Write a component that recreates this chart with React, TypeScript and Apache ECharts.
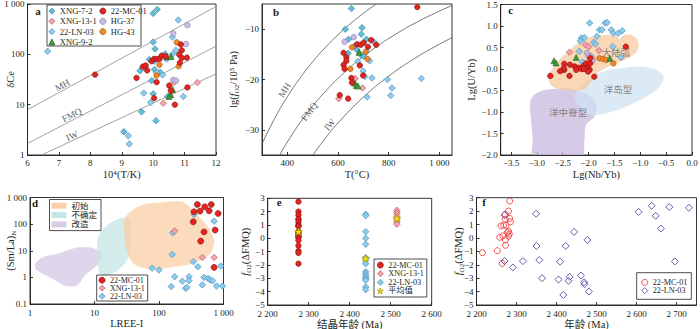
import React, { useEffect, useRef } from 'react';
import * as echarts from 'echarts';

const SERIF = "'Liberation Serif', 'Times New Roman', 'Noto Sans CJK SC', serif";
const INK = '#231f20';

// ===== Panel a: δCe vs 10^4/T(K)
const aXNG72 = [[10.0, 650], [10.13, 780], [10.0, 175], [10.06, 128], [9.88, 79], [10.38, 102], [9.58, 47], [10.04, 50], [10.22, 44], [9.95, 30], [10.0, 16.5], [9.63, 7.2], [10.09, 4.8], [9.07, 2.9], [10.46, 14.6]];
const aLN03 = [[6.64, 115], [10.8, 480], [10.61, 220], [10.72, 121], [10.04, 73], [10.43, 81], [10.61, 99], [9.67, 54], [10.11, 43], [10.3, 39], [9.7, 17], [9.92, 11], [9.21, 2.4], [9.24, 1.66], [10.96, 14.6]];
const aXNG131 = [[10.32, 10.7], [11.41, 27.5], [10.66, 27.5]];
const aHG37 = [[10.64, 260], [11.09, 380], [11.05, 160], [10.64, 31], [10.73, 30]];
const aHG43 = [[10.75, 173], [10.11, 38], [10.2, 62], [10.81, 58]];
const aXNG92 = [[10.43, 89], [10.57, 91], [10.62, 20], [10.56, 15.8], [10.5, 14.6]];
const aMC01 = [[8.15, 39.5], [9.47, 34], [9.67, 57], [9.76, 60], [9.81, 48], [9.95, 73], [10.03, 81], [10.11, 81], [10.2, 81], [10.27, 94], [10.11, 28], [10.03, 13.5], [10.51, 24], [10.56, 19], [10.88, 157], [10.91, 120], [10.83, 99], [10.91, 85], [10.85, 68], [11.07, 86], [10.69, 10], [11.09, 22], [10.4, 91]];
const aMH = [[6, 7.9], [12, 890]];
const aFMQ = [[6, 1.7], [12, 145]];
const aIW = [[6.45, 1], [12, 41]];
const aBufferLabels = [{ name: 'MH', value: [7.11, 24], rot: 29 }, { name: 'FMQ', value: [7.41, 6.2], rot: 27 }, { name: 'IW', value: [7.42, 2.38], rot: 24 }];

// ===== Panel b: lg fO2 vs T(°C)
const bXNG72 = [[653, -5.9], [629, -10], [695, -9.7], [642, -12], [692, -11], [712, -12], [662, -13.5], [640, -14.8], [675, -14.1], [688, -15], [701, -15.4]];
const bLN03 = [[678, -16.4], [725, -16.3], [699, -18.3], [706, -19.4], [734, -19.7], [795, -20], [813, -21.7], [715, -23.5], [808, -23.2], [929, -19.8], [741, -12.5], [712, -14.5]];
const bMC01 = [[913, -5.6], [622, -14.7], [633, -15.6], [633, -16.3], [622, -17.1], [626, -17.9], [675, -13], [690, -13.1], [701, -12.7], [731, -12.2], [751, -13.1], [718, -13.5], [686, -17.2], [653, -19.7], [655, -20.6], [699, -19.2], [607, -23.1], [640, -23.8]];
const bXNG131 = [[603, -23.8], [668, -19.8], [697, -21.7]];
const bHG37 = [[626, -12.5], [662, -11.6]];
const bHG43 = [[655, -13.6], [709, -14.5], [716, -15.9], [649, -17.9]];
const bXNG92 = [[683, -14.6], [666, -20.7], [672, -21.2], [679, -21.3]];
const bMH = [[300, -32.8], [350, -27.75], [400, -23.44], [450, -19.72], [500, -16.48], [550, -13.64], [600, -11.12], [650, -8.87], [700, -6.85], [751, -5.0]];
const bFMQ = [[370, -35.0], [400, -32.43], [450, -28.61], [500, -25.29], [550, -22.37], [600, -19.78], [650, -17.48], [700, -15.41], [750, -13.54], [800, -11.85], [900, -8.9], [1000, -6.42], [1050, -5.31]];
const bIW = [[501, -35.0], [550, -31.66], [600, -28.63], [700, -23.52], [800, -19.35], [900, -15.9], [1000, -12.99], [1050, -11.7]];
const bBufferLabels = [{ name: 'MH', value: [390, -22.1], rot: 58 }, { name: 'FMQ', value: [487, -26.4], rot: 52 }, { name: 'IW', value: [568, -29.0], rot: 50 }];

// ===== Panel c: Lg(U/Yb) vs Lg(Nb/Yb)
const cLN03 = [[-1.98, 1.07], [-1.68, 1.07], [-1.64, 1.08], [-1.79, 0.91], [-1.74, 0.91], [-1.56, 0.91], [-1.52, 0.83], [-1.43, 0.83], [-1.35, 0.89], [-2.14, 0.72], [-2.08, 0.73], [-2.16, 0.65], [-1.84, 0.76], [-1.9, 0.62], [-1.87, 0.58], [-1.53, 0.52], [-2.18, 0.41], [-1.95, 0.29], [-2.12, 0.16], [-1.37, 0.27], [-2.08, 0.06]];
const cXNG131 = [[-2.37, 0.39], [-2.06, 0.56], [-2.0, 0.52], [-1.8, 0.43], [-1.93, 0.23]];
const cHG37 = [[-2.03, 0.37], [-2.0, 0.29], [-1.93, 0.19]];
const cHG43 = [[-1.79, 0.25], [-1.72, 0.23], [-1.66, 0.21], [-1.52, 0.13], [-2.05, 0.08]];
const cXNG92 = [[-2.67, 0.19], [-2.63, 0.14], [-2.24, 0.27], [-1.59, 0.25]];
const cMC01 = [[-1.28, 0.52], [-2.47, 0.12], [-2.36, 0.1], [-2.27, 0.06], [-2.19, 0.03], [-2.1, 0.07], [-2.05, 0.13], [-2.01, 0.02], [-1.97, 0.13], [-1.98, -0.02], [-2.47, -0.02], [-2.24, -0.02], [-2.14, 0.0], [-2.09, 0.0], [-2.48, 0.02], [-2.01, -0.06], [-2.74, -0.16], [-2.37, -0.16], [-1.89, -0.18], [-1.97, 0.25], [-2.55, -0.05]];
const cArc = [[-2.77, -0.16], [-2.63, 0.135], [-2.43, 0.37], [-2.21, 0.6], [-1.98, 0.74], [-1.72, 0.79], [-1.47, 0.77], [-1.4, 0.7], [-1.34, 0.77], [-1.21, 0.8], [-1.08, 0.72], [-1.03, 0.56], [-1.09, 0.38], [-1.27, 0.23], [-1.53, 0.1], [-1.79, -0.06], [-1.95, -0.29], [-2.08, -0.47], [-2.31, -0.5], [-2.56, -0.47], [-2.73, -0.37]];
const cOIB = [[-2.27, -0.6], [-2.05, -0.29], [-1.72, -0.06], [-1.4, 0.02], [-1.01, 0.06], [-0.69, -0.02], [-0.55, -0.19], [-0.63, -0.41], [-0.88, -0.64], [-1.27, -0.87], [-1.66, -1.03], [-1.95, -1.07], [-2.11, -0.95], [-2.24, -0.76]];
const cMORB = [[-3.05, -0.6], [-2.89, -0.5], [-2.43, -0.45], [-2.24, -0.49], [-2.01, -0.6], [-1.85, -0.84], [-1.89, -1.11], [-2.05, -1.3], [-2.08, -1.65], [-2.14, -2.08], [-3.07, -2.08], [-3.08, -1.65], [-3.13, -0.95], [-3.13, -0.76]];
const cFieldLabels = [{ name: '大陆弧', value: [-1.47, 0.37] }, { name: '洋岛型', value: [-1.43, -0.49] }, { name: '洋中脊型', value: [-2.4, -1.03] }];

// ===== Panel d: (Sm/La)N vs LREE-I
const dMC01 = [[349, 290], [393, 546], [433, 308], [512, 447], [598, 316], [646, 546], [825, 251], [340, 122], [499, 51], [443, 23], [741, 60], [715, 2.37]];
const dXNG131 = [[175, 56], [470, 5.6], [715, 5.6]];
const dLN03 = [[163, 47], [160, 7.2], [78, 2.2], [100, 1.9], [175, 1.06], [155, 0.45], [259, 0.39], [270, 0.42], [292, 1.06], [292, 0.75], [230, 0.72], [340, 3.9], [400, 2.5], [349, 229], [499, 1.0], [576, 0.92], [620, 0.8], [676, 0.75], [470, 0.52], [780, 0.47], [964, 0.47], [907, 2.66], [715, 129]];
const dInitial = [[29.1, 150], [38.3, 335], [58.1, 546], [93.7, 631], [151, 708], [230, 688], [310, 410], [443, 163], [598, 68.8], [715, 25.1], [715, 18.8], [634, 7.94], [443, 4.47], [275, 2.9], [170, 2.51], [93.7, 2.0], [58.1, 2.18], [43.1, 2.9], [34, 5.96], [30.1, 18.8]];
const dUncertain = [[10.9, 12.2], [11.6, 35.5], [14.7, 79.4], [21, 141], [30.1, 178], [36.9, 122], [36, 25], [34, 5.96], [25.2, 2.18], [16.6, 1.22], [12.3, 1.33], [11.2, 3.35]];
const dModified = [[1.2, 3.16], [1.52, 5.5], [2.76, 7.94], [5.3, 13.3], [8.6, 13.3], [12.3, 9.2], [12.6, 4.47], [10.3, 2.51], [7.2, 1.22], [5.5, 0.52], [3.72, 0.47], [2.05, 1.0], [1.27, 1.88]];

// ===== Panel e: fO2(ΔFMQ) vs crystallisation age
const eMC01Age = 2275;
const eMC01 = [2.75, 2.0, 1.75, 1.45, 1.4, 1.2, 0.95, 0.95, 0.9, 0.5, 0.4, 0.3, 0.15, 0.15, 0.05, -0.15, -0.55, -0.95, -1.1, -1.9];
const eLN03Age = 2439;
const eLN03 = [1.8, 1.7, 0.5, 0.0, -0.45, -1.45, -1.6, -1.9, -2.5, -2.65, -2.8, -2.95, -3.05, -3.15, -3.65, -3.85];
const eXNG131Age = 2515;
const eXNG131 = [2.1, 1.95, 1.8, 1.6, 1.4, 1.2, 1.05];
const eMeans = [[2275, 0.5], [2439, -1.5], [2515, 1.5]];

// ===== Panel f: fO2(ΔFMQ) vs age
const fMC01 = [[2283, 2.75], [2280, 2.0], [2272, 1.75], [2283, 1.45], [2272, 1.4], [2285, 1.2], [2268, 0.95], [2274, 0.95], [2261, 0.9], [2280, 0.5], [2277, 0.4], [2282, 0.3], [2280, 0.15], [2266, 0.15], [2258, 0.05], [2272, -0.15], [2273, -0.55], [2252, -0.95], [2215, -1.1], [2264, -1.9]];
const fLN03 = [[2270, 1.7], [2270, -1.72], [2291, -2.2], [2316, -1.73], [2349, 1.8], [2350, -0.6], [2357, -1.65], [2364, -3.0], [2405, -3.1], [2409, -1.77], [2423, -0.6], [2444, 0.45], [2477, -0.15], [2430, -3.2], [2433, -2.9], [2417, -4.25], [2461, -2.8], [2469, -3.3], [2470, -3.45], [2481, -4.0], [2605, 1.95], [2638, 2.4], [2648, 1.65], [2661, 0.7], [2682, 2.3], [2696, -1.75], [2731, 2.25]];

// tick labels
const bXTicks = [400, 600, 800, 1000];
const bYTicks = [-30, -20, -10];
const cXTicks = [-3.5, -3.0, -2.5, -2.0, -1.5, -1.0, -0.5, 0.0];
const fXTicks = [2200, 2300, 2400, 2500, 2600, 2700];

const COL = {
  xng72: ['#63bfd8', '#2f7f9a'],
  ln03: ['#8fcbea', '#3e86b5'],
  mc01: ['#e3241f', '#7d1512'],
  xng131: ['#f2a3ab', '#b9515f'],
  hg37: ['#cbbde3', '#7f6fa8'],
  hg43: ['#f0882c', '#a4540f'],
  xng92: ['#3f9b3a', '#22611d'],
  mean: ['#f7e600', '#9a8a00'],
  openRed: ['#ffffff', '#f03c3c'],
  openPurple: ['#ffffff', '#5a4aa8'],
};
const STAR = 'path://M0,-10L2.35,-3.24L9.51,-3.09L3.8,1.24L5.88,8.09L0,4L-5.88,8.09L-3.8,1.24L-9.51,-3.09L-2.35,-3.24Z';

function fmtNum(v: number, dec = 0): string {
  const av = Math.abs(v);
  let s = dec ? av.toFixed(dec) : String(Math.round(av * 1000) / 1000);
  if (av >= 1000) s = s.replace(/\B(?=(\d{3})+(?!\d))/g, ' ');
  return (v < 0 ? '−' : '') + s;
}

function axis(gi: number, cfg: any) {
  const { type = 'value', min, max, interval, ticks, dec = 0, name, nameGap, rich, margin = 3 } = cfg;
  const a: any = {
    type, gridIndex: gi, min, max,
    axisLine: { show: true, onZero: false, lineStyle: { color: INK, width: 0.9 } },
    axisTick: { show: true, inside: true, length: 3, lineStyle: { color: INK, width: 0.9 } },
    axisLabel: { color: INK, fontSize: 9, fontFamily: SERIF, margin, formatter: (v: number) => fmtNum(v, dec), showMinLabel: true, showMaxLabel: true },
    splitLine: { show: false },
    minorTick: { show: false },
    name, nameLocation: 'middle', nameGap, nameMoveOverlap: false,
    nameTextStyle: { color: INK, fontSize: 10.5, fontFamily: SERIF, rich },
  };
  if (interval != null) a.interval = interval;
  if (ticks) { a.axisLabel.customValues = ticks; a.axisTick.customValues = ticks; }
  if (type === 'log') a.logBase = 10;
  return a;
}

function sc(name: string, data: any[], g: number, symbol: string, size: number, col: string[], z = 3, bw = 0.6) {
  return {
    type: 'scatter', name, data, xAxisIndex: g, yAxisIndex: g, symbol, symbolSize: size, z, silent: true,
    itemStyle: { color: col[0], borderColor: col[1], borderWidth: bw, opacity: 1 },
  };
}

function poly(name: string, pts: number[][], g: number, color: string, smooth = 0.3) {
  return {
    type: 'custom', name, xAxisIndex: g, yAxisIndex: g, clip: true, silent: true, z: 1,
    data: [pts[0]],
    renderItem: (_p: any, api: any) => ({
      type: 'polygon',
      shape: { points: pts.map((p) => api.coord(p)), smooth },
      style: { fill: color, stroke: 'none' },
    }),
  };
}

function bufferLine(data: number[][], g: number, color: string, smooth: boolean) {
  return {
    type: 'line', data, xAxisIndex: g, yAxisIndex: g, showSymbol: false, symbol: 'none', smooth, silent: true, z: 2,
    lineStyle: { color, width: 0.8 }, clip: true,
  };
}

function textLabels(items: any[], g: number, color: string, size: number) {
  return {
    type: 'scatter', xAxisIndex: g, yAxisIndex: g, symbolSize: 0, silent: true, z: 2,
    data: items.map((it) => ({ name: it.name, value: it.value, label: { rotate: it.rot || 0 } })),
    label: { show: true, position: 'inside', formatter: '{b}', color, fontSize: size, fontFamily: SERIF },
  };
}

const li = (name: string, icon: string, col: string[], bw = 0.7) => ({ name, icon, itemStyle: { color: col[0], borderColor: col[1], borderWidth: bw } });

function legend(left: number, top: number, data: any[], opts: any = {}) {
  return {
    left, top, orient: 'vertical', itemGap: 0, itemWidth: opts.iw || 6, itemHeight: opts.ih || 6, selectedMode: false,
    padding: opts.padding || 0,
    borderColor: opts.border ? INK : 'transparent', borderWidth: opts.border ? 0.8 : 0,
    textStyle: { fontSize: opts.fs || 8.5, fontFamily: SERIF, color: INK, lineHeight: opts.lh || 10 },
    data,
  };
}

const subRich = {
  t: { fontSize: 10.5, fontFamily: SERIF, color: INK, lineHeight: 14 },
  i: { fontSize: 10.5, fontFamily: SERIF, color: INK, fontStyle: 'italic', lineHeight: 14 },
  s: { fontSize: 7, fontFamily: SERIF, color: INK, verticalAlign: 'bottom', lineHeight: 9 },
};

function buildOption() {
  const gridBase = { show: true, borderColor: INK, borderWidth: 0.9, containLabel: false, outerBoundsMode: 'none' };
  const grids = [
    { left: 27.5, top: 4, width: 188.5, height: 151 },
    { left: 262, top: 4, width: 190, height: 151 },
    { left: 500.7, top: 4.5, width: 191.3, height: 150.5 },
    { left: 30, top: 197.5, width: 193.5, height: 106.5 },
    { left: 267.7, top: 198.3, width: 164, height: 106.7 },
    { left: 476.5, top: 197.7, width: 220, height: 107.3 },
  ].map((g) => ({ ...gridBase, ...g }));

  const xAxis = [
    axis(0, { min: 6, max: 12, interval: 1, name: '10⁴(T/K)', nameGap: 14.5 }),
    axis(1, { min: 300, max: 1050, ticks: bXTicks, name: 'T(°C)', nameGap: 14.5 }),
    axis(2, { min: -3.7, max: 0, ticks: cXTicks, dec: 1, name: 'Lg(Nb/Yb)', nameGap: 14.5 }),
    axis(3, { type: 'log', min: 1, max: 1000, name: 'LREE-I', nameGap: 14, margin: 4 }),
    axis(4, { min: 2200, max: 2600, interval: 100, name: '结晶年龄 (Ma)', nameGap: 14.5, margin: 4 }),
    axis(5, { min: 2200, max: 2750, ticks: fXTicks, name: '年龄 (Ma)', nameGap: 14, margin: 4 }),
  ];
  const yAxis = [
    axis(0, { type: 'log', min: 1, max: 1000, name: 'δCe', nameGap: 12 }),
    axis(1, { min: -35, max: -5, ticks: bYTicks, name: '{t|lg(}{i|f}{s|O2}{t|/10⁵ Pa)}', nameGap: 22, rich: subRich }),
    axis(2, { min: -2, max: 1.5, interval: 0.5, dec: 1, name: 'Lg(U/Yb)', nameGap: 24 }),
    axis(3, { type: 'log', min: 0.1, max: 1000, name: '{t|(Sm/La)}{s|N}', nameGap: 13, rich: subRich }),
    axis(4, { min: -5, max: 3, interval: 1, name: '{i|f}{s|O2}{t|(ΔFMQ)}', nameGap: 15.5, rich: subRich }),
    axis(5, { min: -5, max: 3, interval: 1, name: '{i|f}{s|O2}{t|(ΔFMQ)}', nameGap: 11, rich: subRich }),
  ];

  const series: any[] = [
    // a
    bufferLine(aMH, 0, '#8a8a8a', false), bufferLine(aFMQ, 0, '#8a8a8a', false), bufferLine(aIW, 0, '#8a8a8a', false),
    textLabels(aBufferLabels, 0, '#333', 9.5),
    sc('XNG-7-2', aXNG72, 0, 'diamond', 6.5, COL.xng72),
    sc('22-LN-03', aLN03, 0, 'diamond', 6.5, COL.ln03),
    sc('XNG-13-1', aXNG131, 0, 'diamond', 6.5, COL.xng131),
    sc('HG-37', aHG37, 0, 'circle', 5.5, COL.hg37),
    sc('HG-43', aHG43, 0, 'circle', 5.5, COL.hg43),
    sc('XNG-9-2', aXNG92, 0, 'triangle', 6, COL.xng92),
    sc('22-MC-01', aMC01, 0, 'circle', 5.5, COL.mc01),
    // b
    bufferLine(bMH, 1, '#555', true), bufferLine(bFMQ, 1, '#555', true), bufferLine(bIW, 1, '#555', true),
    textLabels(bBufferLabels, 1, '#333', 9.5),
    sc('XNG-7-2', bXNG72, 1, 'diamond', 6.5, COL.xng72),
    sc('22-LN-03', bLN03, 1, 'diamond', 6.5, COL.ln03),
    sc('XNG-13-1', bXNG131, 1, 'diamond', 6.5, COL.xng131),
    sc('HG-37', bHG37, 1, 'circle', 5.5, COL.hg37),
    sc('HG-43', bHG43, 1, 'circle', 5.5, COL.hg43),
    sc('XNG-9-2', bXNG92, 1, 'triangle', 6, COL.xng92),
    sc('22-MC-01', bMC01, 1, 'circle', 5.5, COL.mc01),
    // c
    poly('洋中脊型', cMORB, 2, 'rgba(200,186,222,0.75)'),
    poly('洋岛型', cOIB, 2, 'rgba(205,225,242,0.7)'),
    poly('大陆弧', cArc, 2, 'rgba(248,200,155,0.72)'),
    textLabels(cFieldLabels, 2, '#666', 9.5),
    sc('22-LN-03', cLN03, 2, 'diamond', 6.5, COL.ln03),
    sc('XNG-13-1', cXNG131, 2, 'diamond', 6.5, COL.xng131),
    sc('HG-37', cHG37, 2, 'circle', 5.5, COL.hg37),
    sc('HG-43', cHG43, 2, 'circle', 5.5, COL.hg43),
    sc('XNG-9-2', cXNG92, 2, 'triangle', 6, COL.xng92),
    sc('22-MC-01', cMC01, 2, 'circle', 5.5, COL.mc01),
    // d
    poly('改造', dModified, 3, 'rgba(214,200,228,0.75)'),
    poly('不确定', dUncertain, 3, 'rgba(196,228,228,0.75)'),
    poly('初始', dInitial, 3, 'rgba(249,204,160,0.7)'),
    sc('22-LN-03', dLN03, 3, 'diamond', 6.5, COL.ln03),
    sc('XNG-13-1', dXNG131, 3, 'diamond', 6.5, COL.xng131),
    sc('22-MC-01', dMC01, 3, 'circle', 6, COL.mc01),
    // e
    sc('22-MC-01', eMC01.map((v) => [eMC01Age, v]), 4, 'circle', 5.5, COL.mc01),
    sc('22-LN-03', eLN03.map((v) => [eLN03Age, v]), 4, 'diamond', 6.5, COL.ln03),
    sc('XNG-13-1', eXNG131.map((v) => [eXNG131Age, v]), 4, 'diamond', 6.5, COL.xng131),
    sc('平均值', eMeans, 4, STAR, 8, COL.mean, 5),
    // f
    sc('22-MC-01', fMC01, 5, 'circle', 6, ['rgba(255,255,255,0)', '#f03c3c'], 3, 0.9),
    sc('22-LN-03', fLN03, 5, 'diamond', 7, ['rgba(255,255,255,0)', '#5a4aa8'], 3, 0.9),
  ];

  const legends = [
    legend(48.5, 5.9, [li('XNG-7-2', 'diamond', COL.xng72), li('XNG-13-1', 'diamond', COL.xng131), li('22-LN-03', 'diamond', COL.ln03), li('XNG-9-2', 'triangle', COL.xng92)], { lh: 10.3 }),
    legend(99.5, 5.9, [li('22-MC-01', 'circle', COL.mc01), li('HG-37', 'circle', COL.hg37), li('HG-43', 'circle', COL.hg43)], { lh: 10.3 }),
    legend(49.5, 199.5, [li('初始', 'rect', ['rgba(249,204,160,0.9)', 'rgba(0,0,0,0)'], 0), li('不确定', 'rect', ['rgba(196,228,228,0.95)', 'rgba(0,0,0,0)'], 0), li('改造', 'rect', ['rgba(214,200,228,0.95)', 'rgba(0,0,0,0)'], 0)], { border: true, iw: 15, ih: 6, lh: 9.3, padding: [1.6, 4, 1.6, 2] }),
    legend(96.7, 275, [li('22-MC-01', 'circle', COL.mc01), li('XNG-13-1', 'diamond', COL.xng131), li('22-LN-03', 'diamond', COL.ln03)], { border: true, lh: 8, padding: [1.2, 3, 0.8, 2], fs: 8 }),
    legend(374, 259, [li('22-MC-01', 'circle', COL.mc01), li('XNG-13-1', 'diamond', COL.xng131), li('22-LN-03', 'diamond', COL.ln03), li('平均值', STAR, COL.mean)], { border: true, lh: 8.6, padding: [1.8, 3, 1.8, 3], fs: 8.2 }),
    legend(636.7, 272.7, [li('22-MC-01', 'circle', COL.openRed, 0.9), li('22-LN-03', 'diamond', COL.openPurple, 0.9)], { border: true, lh: 8.3, padding: [5.5, 4, 4.5, 4.6], fs: 8.2 }),
  ];

  const letter = (t: string, x: number, y: number) => ({
    type: 'text', x, y, z: 20, silent: true,
    style: { text: t, fill: INK, font: `bold 11px ${SERIF}`, textAlign: 'center', textVerticalAlign: 'middle' },
  });

  const graphic = [
    { type: 'rect', shape: { x: 47, y: 5, width: 94, height: 41 }, style: { fill: 'none', stroke: INK, lineWidth: 0.8 }, z: 20, silent: true },
    letter('a', 38, 11),
    letter('b', 276, 11.7),
    letter('c', 510.7, 10),
    letter('d', 35, 202.7),
    letter('e', 279.3, 202.3),
    letter('f', 484, 202.3),
  ];

  return {
    animation: false,
    backgroundColor: '#ffffff',
    textStyle: { fontFamily: SERIF },
    grid: grids,
    xAxis,
    yAxis,
    legend: legends,
    graphic,
    series,
  };
}

export default function App() {
  const ref = useRef<HTMLDivElement>(null);
  useEffect(() => {
    if (!ref.current) return;
    const chart = echarts.init(ref.current, undefined, { renderer: 'svg' });
    chart.setOption(buildOption() as any);
    return () => chart.dispose();
  }, []);
  return (
    <div
      ref={ref}
      style={{ position: 'fixed', left: 0, top: 0, width: 700, height: 329, background: '#fff' }}
    />
  );
}
